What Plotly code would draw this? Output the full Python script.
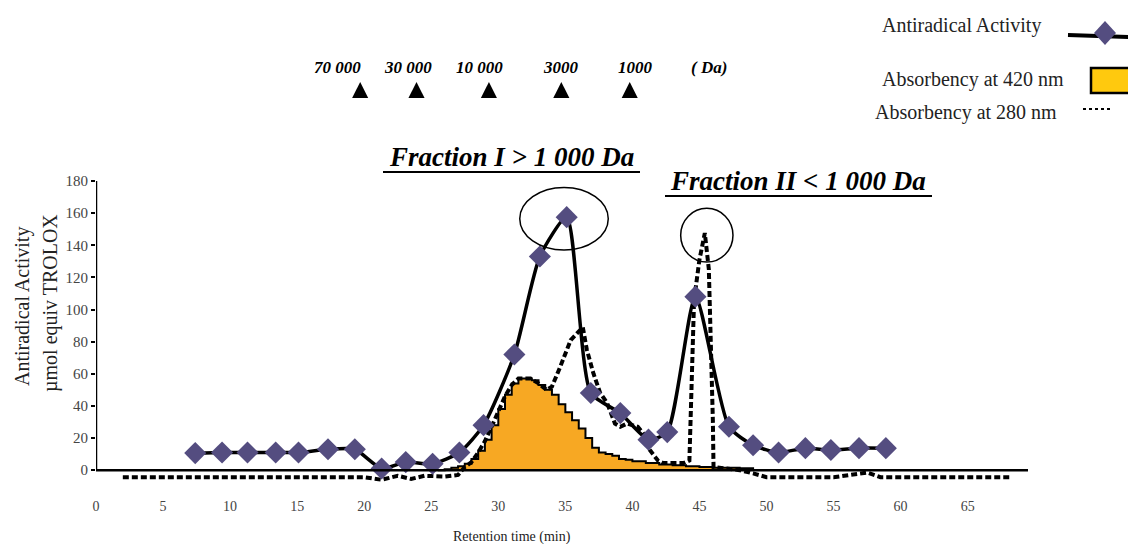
import plotly.graph_objects as go

# ---------------- data ----------------
activity_x = [7.4, 9.4, 11.3, 13.4, 15.1, 17.3, 19.3, 21.3, 23.1, 25.1, 27.1, 28.9, 31.2, 33.1,
              35.1, 36.9, 39.1, 41.2, 42.6, 44.7, 47.2, 49.0, 50.9, 52.9, 54.8, 56.9, 58.9]
activity_y = [10.6, 11, 11, 11, 11, 13, 13, 1, 5, 4, 11, 28, 72, 133,
              157.5, 48, 35.5, 19, 23.7, 108, 27, 15.5, 11, 13.7, 12.5, 13.7, 13.7]

abs420_x = [25.5, 26, 26.5, 27, 27.5, 28, 28.5, 29, 29.5, 30, 30.5, 31, 31.5, 32, 32.5, 33,
            33.5, 34, 34.5, 35, 35.5, 36, 36.5, 37, 37.5, 38, 38.5, 39, 39.5, 40, 41, 42,
            43, 44, 45, 46, 48, 49]
abs420_y = [0, 0.5, 1.5, 2.5, 4, 7, 12, 19, 28, 38, 47, 54, 57, 57, 56, 53,
            50, 47, 41, 36, 31, 26, 20, 14, 11, 10, 9, 7, 6.5, 5.5, 4.5, 3.5,
            3, 2.5, 2, 1.5, 1.2, 0]

abs280_x = [2.0, 5, 10, 15, 20, 21.3, 22.5, 23.5, 24.5, 26, 27, 27.5, 28, 28.5, 29, 29.5, 30,
            30.5, 31, 31.5, 32.4, 33, 33.6, 34, 34.6, 35.4, 36.3, 36.6, 37.1, 37.6, 38.1,
            38.7, 39.1, 39.6, 40.4, 40.8, 41.3, 41.9, 42.3, 43.8, 44.25, 44.4, 44.6, 45.0,
            45.4, 45.7, 45.85, 46.0, 46.05, 47, 48, 49, 50, 55, 56.5, 57.5, 58.5, 68.2]
abs280_y = [-4.4, -4.4, -4.4, -4.4, -4.4, -6, -3.5, -5.5, -3.5, -4, -3, 2, 5, 11, 18, 27, 37,
            46, 53, 57, 57, 54, 50, 52, 64, 81, 89, 75, 60, 48, 42,
            29, 27, 29, 27, 23, 12.5, 6, 4.4, 4.4, 6, 56, 106, 131,
            147.6, 125, 87, 31, 2, 1, 0, -2, -4.4, -4.4, -3, -1.5, -4.4, -4.4]

da_marker_x = [19.7, 23.9, 29.3, 34.7, 39.8]
da_label_x = [18.0, 23.3, 28.6, 34.7, 40.2]
da_labels = ["70 000", "30 000", "10 000", "3000", "1000"]

x_ticks = [0, 5, 10, 15, 20, 25, 30, 35, 40, 45, 50, 55, 60, 65]
y_ticks = [0, 20, 40, 60, 80, 100, 120, 140, 160, 180]

# ---------------- layout geometry (pixels) ----------------
W_FIG, H_FIG = 1128, 544
L, R, T, B = 96, 1028, 181, 483


def px(x):
    return (x - L) / (R - L)


def py(y):
    return (B - y) / (B - T)


SERIF = "Liberation Serif"
ORANGE = "#F7A823"
PURPLE = "#544D80"

fig = go.Figure()

fig.add_trace(go.Scatter(
    x=abs420_x, y=abs420_y, mode="lines", line=dict(color="black", width=2, shape="hv"),
    fill="tozeroy", fillcolor=ORANGE, name="Absorbency at 420 nm", showlegend=False))

fig.add_trace(go.Scatter(
    x=abs280_x, y=abs280_y, mode="lines", line=dict(color="black", width=4, dash="6px,3px"),
    name="Absorbency at 280 nm", showlegend=False))

fig.add_trace(go.Scatter(
    x=activity_x, y=activity_y, mode="lines+markers",
    line=dict(color="black", width=3.5, shape="spline", smoothing=0.6),
    marker=dict(symbol="diamond", size=17, color=PURPLE, line=dict(width=0)),
    name="Antiradical Activity", showlegend=False))

shapes = []
annotations = []

# axes lines
shapes.append(dict(type="line", xref="x", yref="y", x0=0, x1=69.5, y0=0, y1=0,
                   line=dict(color="black", width=2.5)))
shapes.append(dict(type="line", xref="x", yref="y", x0=0, x1=0, y0=0, y1=180,
                   line=dict(color="black", width=2.5)))

# ellipses around peaks
shapes.append(dict(type="circle", xref="x", yref="y", x0=31.6, x1=38.2, y0=137, y1=176,
                   line=dict(color="black", width=1.5)))
shapes.append(dict(type="circle", xref="x", yref="y", x0=43.6, x1=47.5, y0=129.5, y1=163,
                   line=dict(color="black", width=1.5)))

# molecular weight markers
for xm in da_marker_x:
    shapes.append(dict(type="path", xref="x", yref="paper",
                       path=f"M {xm-0.6},{py(98)} L {xm+0.6},{py(98)} L {xm},{py(82)} Z",
                       fillcolor="black", line=dict(color="black", width=0)))
da_font = dict(family=SERIF, size=17, color="black")
for xl, lab in zip(da_label_x, da_labels):
    annotations.append(dict(x=xl, y=py(67), xref="x", yref="paper", text=f"<b><i>{lab}</i></b>",
                            showarrow=False, font=da_font, xanchor="center", yanchor="middle"))
annotations.append(dict(x=45.7, y=py(67), xref="x", yref="paper", text="<b><i>( Da)</i></b>",
                        showarrow=False, font=da_font, xanchor="center", yanchor="middle"))

# fraction titles
frac_font = dict(family=SERIF, size=27, color="black")
annotations.append(dict(x=px(511), y=py(157), xref="paper", yref="paper",
                        text="<b><i>Fraction I &gt; 1 000 Da</i></b>", showarrow=False,
                        font=frac_font, xanchor="center", yanchor="middle"))
shapes.append(dict(type="line", xref="paper", yref="paper", x0=px(383), x1=px(640),
                   y0=py(172), y1=py(172), line=dict(color="black", width=2)))
annotations.append(dict(x=px(798), y=py(181), xref="paper", yref="paper",
                        text="<b><i>Fraction II &lt; 1 000 Da</i></b>", showarrow=False,
                        font=frac_font, xanchor="center", yanchor="middle"))
shapes.append(dict(type="line", xref="paper", yref="paper", x0=px(665), x1=px(932),
                   y0=py(196), y1=py(196), line=dict(color="black", width=2)))

# custom legend
leg_font = dict(family=SERIF, size=20, color="#222")
annotations.append(dict(x=px(880), y=py(26), xref="paper", yref="paper", text="Antiradical Activity",
                        showarrow=False, font=leg_font, xanchor="left", yanchor="middle"))
shapes.append(dict(type="line", xref="paper", yref="paper", x0=px(1068), x1=px(1130),
                   y0=py(35), y1=py(37), line=dict(color="black", width=4)))
cx, cy = 1105, 33
shapes.append(dict(type="path", xref="paper", yref="paper",
                   path=(f"M {px(cx-11)},{py(cy)} L {px(cx)},{py(cy-12)} L {px(cx+11)},{py(cy)} "
                         f"L {px(cx)},{py(cy+12)} Z"),
                   fillcolor=PURPLE, line=dict(width=0)))
annotations.append(dict(x=px(880), y=py(80), xref="paper", yref="paper", text="Absorbency at 420 nm",
                        showarrow=False, font=leg_font, xanchor="left", yanchor="middle"))
shapes.append(dict(type="rect", xref="paper", yref="paper", x0=px(1091), x1=px(1135),
                   y0=py(93), y1=py(68), fillcolor="#FFC90E", line=dict(color="black", width=2.5)))
annotations.append(dict(x=px(873), y=py(113), xref="paper", yref="paper", text="Absorbency at 280 nm",
                        showarrow=False, font=leg_font, xanchor="left", yanchor="middle"))
shapes.append(dict(type="line", xref="paper", yref="paper", x0=px(1083), x1=px(1113),
                   y0=py(109), y1=py(109), line=dict(color="black", width=2, dash="dot")))

# axis titles
ax_font = dict(family=SERIF, size=20, color="#222")
annotations.append(dict(x=px(22), y=py(307), xref="paper", yref="paper", text="Antiradical Activity",
                        showarrow=False, textangle=-90, font=ax_font,
                        xanchor="center", yanchor="middle"))
annotations.append(dict(x=px(50), y=py(303), xref="paper", yref="paper", text="µmol equiv TROLOX",
                        showarrow=False, textangle=-90, font=ax_font,
                        xanchor="center", yanchor="middle"))
annotations.append(dict(x=px(512), y=py(537), xref="paper", yref="paper", text="Retention time (min)",
                        showarrow=False, font=dict(family=SERIF, size=14, color="#222"),
                        xanchor="center", yanchor="middle"))

fig.update_layout(
    width=W_FIG, height=H_FIG,
    margin=dict(l=L, r=W_FIG - R, t=T, b=H_FIG - B),
    paper_bgcolor="white", plot_bgcolor="white",
    showlegend=False,
    shapes=shapes, annotations=annotations,
    xaxis=dict(range=[0, 69.5], tickvals=x_ticks, showgrid=False, zeroline=False,
               showline=False, ticks="", ticklabelstandoff=13,
               tickfont=dict(family=SERIF, size=14, color="#444")),
    yaxis=dict(range=[-8, 180], tickvals=y_ticks, showgrid=False, zeroline=False,
               showline=False, ticks="outside", ticklen=4, tickwidth=2, tickcolor="black",
               tickfont=dict(family=SERIF, size=15, color="#444")),
)

fig.write_html("out.html")
